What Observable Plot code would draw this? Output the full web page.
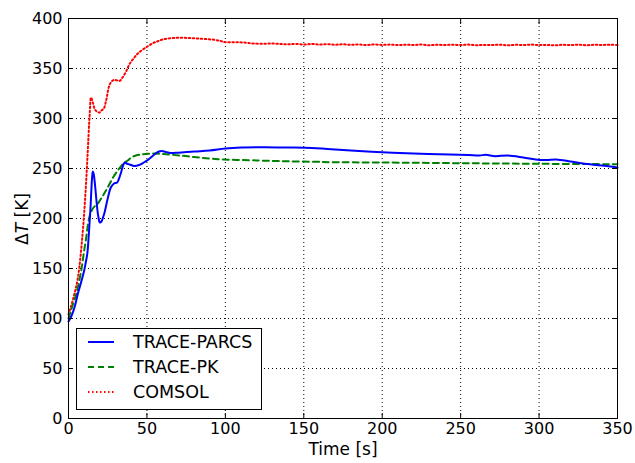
<!DOCTYPE html>
<html><head><meta charset="utf-8">
<script src="https://cdn.jsdelivr.net/npm/d3@7"></script>
<script src="https://cdn.jsdelivr.net/npm/@observablehq/plot@0.6"></script>
<style>body{margin:0;background:#fff} #chart svg{display:block} #chart svg g[aria-label="x-axis label"] text{font-size:17px}</style>
</head><body><div id="chart"></div>
<script>
const seriesNames = ["TRACE-PARCS", "TRACE-PK", "COMSOL"];
const seriesColors = ["#0000ff", "#008000", "#ff0000"];

const tParcs = [0,2,4,6,8,10,11,12,13,14,15,15.5,16,17,18,19,20,21,22,23,25,27,29,31,32,33.5,35,36,37,39,42,45,48,51,54,57,59.5,62,65,70,80,90,100,110,125,140,155,165,180,200,220,243,255,262,266,272,280,290,299,305,311,320,328,340,350];
const vParcs = [97,103,112,125,136,148,156,165,185,210,240,247,245,232,215,202,196,197,201,206,220,231,235,236,239,246,254,256,255,254,252.5,253.5,256,259,263,266.5,267.5,266.5,265.5,265.8,267,268,270,271,271.3,271,270.5,269.5,268,266.3,265,264,263.5,263,263.7,262.3,263,261,258.7,258.5,259,257,255,253,251];

const tPk = [0,2,5,8,10,11.3,12.5,14,16,18.7,22,25,28,31.4,35,37.8,40,43,46.3,50,55,60,71,80,90,99,116,124,140,158,167,200,250,300,350];
const vPk = [100,110,125,147,168,181,195,205,211,215,223,231,240,248,255,258,261,263,264,264.7,265,264.5,263,261.5,260,259,258.3,257.8,257.2,256.7,256.3,256,255.3,254.7,254.3];

const tComsol = [0,3,6,9,11,12.3,13.4,14.4,15.5,16.6,18,19.8,21,22.5,24,26,27.5,29.3,31,32.5,34.6,37,39,41.5,44,47,50.6,54,57,60,63.3,67,72,77,82,87,93,97,100,106,112,118,125,130,135,140,145,150,155,160,165,170,175,180,185,190,195,200,205,210,215,220,225,230,235,240,245,250,255,260,265,270,275,280,285,290,295,300,305,310,315,320,325,330,335,340,345,350];
const vComsol = [104,120,141,185,230,268,301,321,316,310,307,306,308,310,318,333,337,338.7,338,337.5,341.3,348,354.7,360,364.7,368.5,372.3,375.5,377.3,379,380,380.5,380.7,380.5,380,379.5,378.7,377.5,376.3,376.2,376,375,374.8,375,374.5,374.2,374.6,374,374.5,374,374.3,373.8,374.2,373.7,374,373.5,374,373.6,373.9,373.4,373.8,373.5,373.9,373.3,373.7,373.5,373.8,373.4,373.9,373.3,373.6,373.4,373.8,373.2,373.7,373.5,373.9,373.4,373.6,373.2,373.7,373.4,373.8,373.3,373.7,373.5,373.8,373.4];

const xTicks = [0,50,100,150,200,250,300,350];
const yTicks = [0,50,100,150,200,250,300,350,400];
const xLabel = "Time [s]";

const toRows = (t, v, s) => t.map((d, i) => ({t: d, v: v[i], s}));
const parcs = toRows(tParcs, vParcs, seriesNames[0]);
const pk = toRows(tPk, vPk, seriesNames[1]);
const comsol = toRows(tComsol, vComsol, seriesNames[2]);

const FONT = "'DejaVu Sans', sans-serif";
const gridStyle = {stroke: "black", strokeOpacity: 1, strokeWidth: 1, strokeDasharray: "1,3"};
const noText = () => "";
const dashes = [null, "6,4", "1.5,2.5"];

const chart = Plot.plot({
  width: 635, height: 463,
  marginLeft: 68, marginRight: 18, marginTop: 18, marginBottom: 45,
  style: {fontFamily: FONT, fontSize: "16px", color: "black", background: "white"},
  x: {domain: [0, 350]},
  y: {domain: [0, 400]},
  marks: [
    Plot.gridX(xTicks.slice(1, -1), gridStyle),
    Plot.gridY(yTicks.slice(1, -1), gridStyle),
    Plot.line(comsol, {x: "t", y: "v", stroke: seriesColors[2], strokeWidth: 2, strokeDasharray: dashes[2], curve: "catmull-rom"}),
    Plot.line(pk, {x: "t", y: "v", stroke: seriesColors[1], strokeWidth: 2, strokeDasharray: dashes[1], curve: "catmull-rom"}),
    Plot.line(parcs, {x: "t", y: "v", stroke: seriesColors[0], strokeWidth: 2, curve: "catmull-rom"}),
    Plot.axisX(xTicks, {anchor: "bottom", tickSize: 0, tickPadding: 4, label: xLabel, labelAnchor: "center", labelArrow: "none", labelOffset: 36}),
    Plot.axisY(yTicks, {anchor: "left", tickSize: 0, tickPadding: 6, label: null}),
    Plot.axisX(xTicks, {anchor: "bottom", tickSize: -5, tickFormat: noText, label: null}),
    Plot.axisX(xTicks, {anchor: "top", tickSize: -5, tickFormat: noText, label: null}),
    Plot.axisY(yTicks, {anchor: "left", tickSize: -5, tickFormat: noText, label: null}),
    Plot.axisY(yTicks, {anchor: "right", tickSize: -5, tickFormat: noText, label: null}),
    Plot.frame({stroke: "black", strokeWidth: 1})
  ]
});
document.getElementById("chart").appendChild(chart);

const svg = d3.select(chart);
// y axis title with italic T
const yt = svg.append("text")
  .attr("transform", "translate(28,219) rotate(-90)")
  .attr("text-anchor", "middle")
  .style("font-family", FONT).style("font-size", "17px").attr("fill", "black");
yt.append("tspan").text("Δ");
yt.append("tspan").attr("font-style", "italic").text("T");
yt.append("tspan").text(" [K]");

// legend
const lg = svg.append("g");
lg.append("rect").attr("x", 76.5).attr("y", 328.5).attr("width", 185).attr("height", 81)
  .attr("fill", "white").attr("stroke", "black").attr("stroke-width", 1);
seriesNames.forEach((name, i) => {
  const y = 342 + i * 25;
  lg.append("line").attr("x1", 88).attr("x2", 114).attr("y1", y).attr("y2", y)
    .attr("stroke", seriesColors[i]).attr("stroke-width", 2)
    .attr("stroke-dasharray", dashes[i]);
  lg.append("text").attr("x", 133).attr("y", y).attr("dy", "0.35em")
    .attr("text-anchor", "start")
    .style("font-family", FONT).style("font-size", "17.5px").attr("fill", "black").text(name);
});
</script>
</body></html>
